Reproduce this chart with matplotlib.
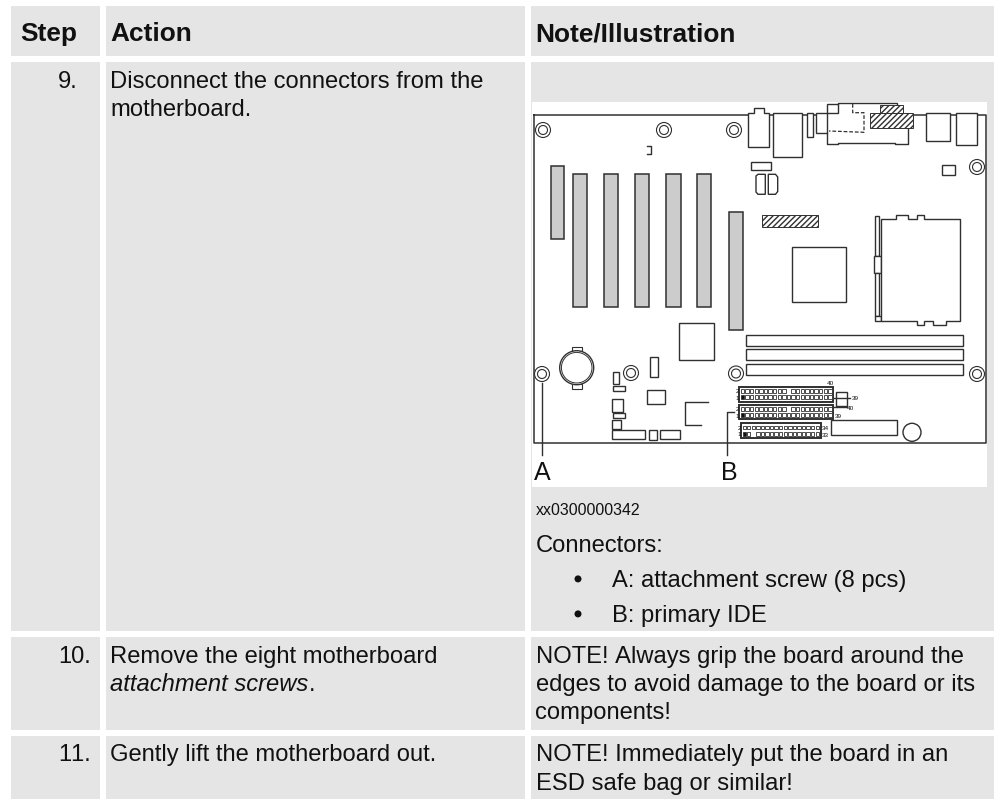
import matplotlib
matplotlib.use("Agg")
import matplotlib.pyplot as plt
from matplotlib.patches import Rectangle, Circle, Polygon

plt.rcParams['font.family'] = ['Liberation Sans', 'DejaVu Sans']
plt.rcParams['hatch.linewidth'] = 1.0
plt.rcParams['text.kerning_factor'] = 6

GREY = '#e5e5e5'
LINE = '#303030'
BODY = 17.15

# table cells x0, x1, y0, y1
col_edges = [(11, 100), (106, 525), (531, 994)]
row_edges = [(6, 56), (62, 631), (637, 730), (736, 799)]

headers = ['Step', 'Action', 'Note/Illustration']
steps = ['9.', '10.', '11.']
step_y = [87.7, 662.7, 761.4]
action_lines = [('Disconnect the connectors from the', 87.7), ('motherboard.', 115.7),
                ('Remove the eight motherboard', 662.7), ('Gently lift the motherboard out.', 761.4)]
note_lines = [('Connectors:', 552.4),
              ('NOTE! Always grip the board around the', 662.7),
              ('edges to avoid damage to the board or its', 691.2),
              ('components!', 719.2),
              ('NOTE! Immediately put the board in an', 761.4),
              ('ESD safe bag or similar!', 789.7)]
bullets = [('A: attachment screw (8 pcs)', 587.4), ('B: primary IDE', 622.4)]

# board drawing, all (x0, x1, y0, y1)
slots = [(551, 564, 166, 239), (572.5, 587, 174, 307), (603.7, 618.3, 174, 307),
         (634.7, 649.3, 174, 307), (666, 680.7, 174, 307), (696.7, 711.3, 174, 307),
         (728.7, 742.7, 211.7, 329.7)]
boxes = [(678.7, 714, 323.3, 360.3), (649.7, 658, 357.3, 377.3), (612.7, 618.7, 372.3, 384.3),
         (613.3, 624.7, 386.3, 391), (612.3, 623, 399.3, 412), (613.3, 625.3, 413.3, 418.3),
         (612.3, 621.3, 420.3, 428.7), (611.7, 645.3, 430.3, 439), (648.7, 656.7, 430.3, 439.7),
         (659.7, 679.7, 430, 439), (646.7, 664.7, 390.3, 404.3),
         (746.3, 963.3, 334.7, 345.7), (746.3, 963.3, 348.7, 359.7), (746.3, 963.3, 363.7, 375),
         (772.7, 801.7, 112.7, 157.3), (806.7, 812.7, 112.7, 136.7), (816, 827.3, 113.3, 133.3),
         (925.7, 950, 113.3, 140.7), (955.7, 977.3, 112.7, 144.7),
         (751.3, 771.3, 162, 170.3), (942.3, 955, 165, 175.3), (791.7, 846.3, 246.7, 302.3),
         (896.3, 944.3, 238.3, 284.3), (875.3, 879.3, 216, 256), (874.3, 881, 256, 273.3),
         (875.3, 879.3, 273.3, 316), (875.3, 881, 316, 320.7),
         (835.7, 846.7, 392.3, 405.7), (831, 897.3, 420.3, 435.3)]
hatched = [(870, 913.3, 113.3, 128.3), (880, 903.3, 105, 113.3), (762.3, 818.3, 215.3, 227.3)]
holes = [(543, 130), (664, 130), (734, 130), (977, 167), (542, 374), (631, 373), (736, 373.5), (977, 374)]
outlines = [
    [(748.3, 147.3), (748.3, 112.7), (753.7, 112.7), (753.7, 107.7), (763.7, 107.7), (763.7, 112.7),
     (768.7, 112.7), (768.7, 147.3)],
    [(827.3, 113.3), (827.3, 104), (838.3, 104), (838.3, 113.3)],
    [(756, 176), (758, 174.3), (765.3, 174.3), (765.3, 194.3), (758, 194.3), (756, 192)],
    [(768.3, 174.3), (775.5, 174.3), (777.7, 177), (777.7, 191.5), (775.5, 194.3), (768.3, 194.3)],
    [(881, 320.7), (881, 219), (896, 219), (896, 214.5), (908, 214.5), (908, 219), (916.7, 219),
     (916.7, 214.5), (924.3, 214.5), (924.3, 219), (960, 219), (960, 320.7), (945.7, 320.7),
     (945.7, 325), (933.3, 325), (933.3, 320.7), (924, 320.7), (924, 325), (916.7, 325),
     (916.7, 320.7)],
]
open_lines = [
    [(827.3, 133.3), (827.3, 144.3), (838, 144.3), (838, 142.7), (895, 142.7), (895, 144.3),
     (907.7, 144.3), (907.7, 128.3)],
    [(838.3, 104), (838.3, 102.7), (896.7, 102.7), (896.7, 105)],
    [(708.3, 402.3), (684.7, 402.3), (684.7, 424.7), (700.7, 424.7)],
    [(647, 146), (651, 146), (651, 154), (647, 154)],
    [(542, 383.3), (542, 455)],
    [(734.3, 412.3), (727, 412.3), (727, 455)],
    [(833.3, 397.7), (850, 397.7)],
    [(833.3, 407.3), (846.7, 407.3)],
]
connector_body = (827.3, 907.7, 102.7, 142.7)
dashed = [(852.7, 104), (852.7, 112.7), (864, 112.7), (864, 132.3), (829, 131)]
headers_ide = [(739.3, 833.3, 386.7, 401.7, 20, 10), (739.3, 833.3, 404.7, 419.3, 20, 10),
               (741, 820.7, 423.3, 438.3, 17, 2)]
pin_labels = [('2', 735.5, 393), ('1', 735.5, 400), ('2', 735.5, 411), ('1', 735.5, 418),
              ('2', 737.5, 429.5), ('1', 737.5, 436.5), ('40', 826.5, 385), ('39', 851.5, 399.5),
              ('40', 847, 409.5), ('39', 834.5, 418.5), ('34', 822, 430), ('33', 822, 437)]

fig = plt.figure(figsize=(9.94, 7.99), dpi=100)
ax = fig.add_axes([0, 0, 1, 1])
ax.set_xlim(0, 994)
ax.set_ylim(799, 0)
ax.axis('off')


def box(x0, x1, y0, y1, face='white', edge=LINE, lw=1.0, z=3, **kw):
    ax.add_patch(Rectangle((x0, y0), x1 - x0, y1 - y0, facecolor=face, edgecolor=edge, linewidth=lw, zorder=z, **kw))


def txt(x, y, s, size=BODY, **kw):
    return ax.text(x, y, s, fontsize=size, va='baseline', ha='left', color='#111111', zorder=6, **kw)


# table
for r0, r1 in row_edges:
    for c0, c1 in col_edges:
        ax.add_patch(Rectangle((c0, r0), c1 - c0, r1 - r0, facecolor=GREY, edgecolor='none', zorder=1))

for x, h in zip([20, 110.5, 535.5], headers):
    txt(x, 41, h, size=18.9, fontweight='bold')
for s, y in zip(steps, step_y):
    txt(58.3, y, s)
for s, y in action_lines:
    txt(110.5, y, s)
t = txt(110.5, 691.4, 'attachment screws', style='italic')
fig.canvas.draw()
end = t.get_window_extent().x1
txt(end + 0.5, 691.4, '.')
for s, y in note_lines:
    txt(535.5, y, s)
for s, y in bullets:
    txt(611.5, y, s)
    ax.add_patch(Circle((578, y - 8.5), 3.5, facecolor='#111111', edgecolor='none', zorder=6))
txt(535.5, 515.3, 'xx0300000342', size=11.4)

# illustration
ax.add_patch(Rectangle((532, 102), 455, 385, facecolor='white', edgecolor='none', zorder=2))
ax.plot([533.7, 533.7, 986, 986, 533.7], [115, 443.3, 443.3, 115, 115], color=LINE, lw=1.1, zorder=2.5)
box(*connector_body, edge='none', z=2.8)

for x0, x1, y0, y1 in slots:
    box(x0, x1, y0, y1, face='#cccccc', lw=1.1)
for x0, x1, y0, y1 in boxes:
    box(x0, x1, y0, y1, lw=1.0)
for pts in outlines:
    ax.add_patch(Polygon(pts, closed=True, facecolor='white', edgecolor=LINE, linewidth=1.0, zorder=3))
for pts in open_lines:
    ax.plot([p[0] for p in pts], [p[1] for p in pts], color=LINE, lw=1.0, zorder=4)
ax.plot([p[0] for p in dashed], [p[1] for p in dashed], color=LINE, lw=0.9, ls=(0, (3, 1.5)), zorder=4)
for x0, x1, y0, y1 in hatched:
    box(x0, x1, y0, y1, hatch='//////', lw=0.7, z=5)

for cx, cy in holes:
    ax.add_patch(Circle((cx, cy), 7.5, facecolor='white', edgecolor=LINE, linewidth=0.8, zorder=3))
    ax.add_patch(Circle((cx, cy), 4.5, facecolor='white', edgecolor=LINE, linewidth=0.8, zorder=3))

# battery
box(572, 582, 347, 351, lw=0.8)
box(572, 582, 384, 389, lw=0.8)
ax.add_patch(Circle((576.7, 367.7), 17, facecolor='white', edgecolor=LINE, linewidth=1.0, zorder=3))
ax.add_patch(Circle((576.7, 367.7), 15.3, facecolor='white', edgecolor=LINE, linewidth=0.7, zorder=3))
ax.add_patch(Circle((912, 432.3), 9, facecolor='white', edgecolor=LINE, linewidth=1.0, zorder=3))

# IDE headers
for x0, x1, y0, y1, n, gap in headers_ide:
    box(x0, x1, y0, y1, lw=1.4, z=4)
    pitch = (x1 - x0 - 2) / n
    for i in range(n):
        px = x0 + 1.5 + i * pitch
        for row, py in enumerate([y0 + 2.3, y0 + 8.7]):
            if (row == 0 and i == gap and n == 20) or (row == 1 and i == gap and n == 17):
                continue
            pin_face = '#111111' if (row == 1 and i == 0) else 'white'
            box(px, px + pitch - 1.2, py, py + 3.6, face=pin_face, lw=0.6, z=5)

for s, x, y in pin_labels:
    txt(x, y, s, size=4.6)

txt(533.5, 480, 'A', size=18)
txt(721, 480, 'B', size=18)

fig.savefig('out.png', dpi=100)
